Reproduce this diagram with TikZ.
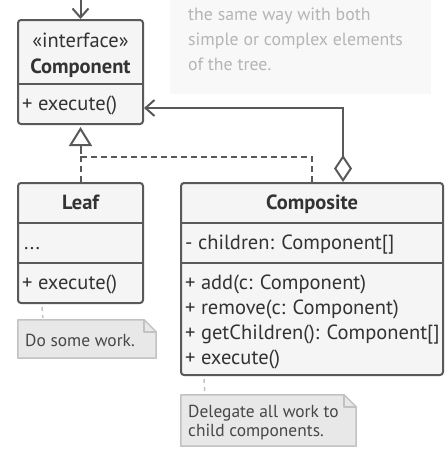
\documentclass[tikz,border=0pt]{standalone}
\usepackage{fontspec}
\setmainfont{PT Sans}
\usetikzlibrary{arrows.meta,calc}
\definecolor{linec}{HTML}{595959}
\definecolor{boxfill}{HTML}{F5F5F5}
\definecolor{txt}{HTML}{333333}
\definecolor{notefill}{HTML}{E8E8E8}
\definecolor{noteline}{HTML}{C2C2C2}
\definecolor{bgnote}{HTML}{F8F8F8}
\definecolor{bgtxt}{HTML}{B5B5B5}
\tikzset{
  classbox/.style={draw=linec, fill=boxfill, line width=2pt, rounded corners=3pt, inner sep=0pt},
  divider/.style={draw=linec, line width=2pt},
  lbl/.style={anchor=base west, inner sep=0pt, text=txt, font=\fontsize{20.5}{25}\selectfont},
  lblc/.style={anchor=base, inner sep=0pt, text=txt, font=\fontsize{20.5}{25}\selectfont},
  notelbl/.style={anchor=base west, inner sep=0pt, text=txt!90, font=\fontsize{17.4}{20}\selectfont},
  bglbl/.style={anchor=base west, inner sep=0pt, text=bgtxt, font=\fontsize{17.8}{25}\selectfont},
  conn/.style={draw=linec, line width=2pt},
  dashline/.style={draw=linec, line width=2pt, dash pattern=on 6pt off 4pt},
  notelink/.style={draw=noteline, line width=1.5pt, dash pattern=on 4pt off 4pt},
  notebox/.style={inner sep=0pt, draw=none},
}
\begin{document}
\begin{tikzpicture}[x=1pt,y=-1pt]
\useasboundingbox (0,0) rectangle (446,458);
% background note
\node[notebox, fill=bgnote, minimum width=261pt, minimum height=104pt] (bg) at (300.5,42) {};
\node[bglbl] (bg1) at (188,20) {the same way with both};
\node[bglbl] (bg2) at (188,45) {simple or complex elements};
\node[bglbl] (bg3) at (188,70) {of the tree.};

% Component
\node[classbox, minimum width=125pt, minimum height=104pt] (comp) at (80.5,72) {};
\draw[divider] (comp.west |- 0,84) -- (comp.east |- 0,84);
\node[lblc] (ci) at (80.5,47) {«interface»};
\node[lblc, font=\fontsize{20.5}{25}\selectfont\bfseries] (cn) at (80.5,73) {Component};
\node[lbl] (ce) at (22,110) {+ execute()};

% Leaf
\node[classbox, minimum width=125pt, minimum height=120pt] (leaf) at (80.5,243) {};
\draw[divider] (leaf.west |- 0,223) -- (leaf.east |- 0,223);
\draw[divider] (leaf.west |- 0,263) -- (leaf.east |- 0,263);
\node[lblc, font=\fontsize{20.5}{25}\selectfont\bfseries] (ln) at (80.5,209) {Leaf};
\node[lbl] (ld) at (24,249) {...};
\node[lbl] (le) at (22,289) {+ execute()};

% Composite
\node[classbox, minimum width=262pt, minimum height=192pt] (compo) at (312,279) {};
\draw[divider] (compo.west |- 0,223) -- (compo.east |- 0,223);
\draw[divider] (compo.west |- 0,263) -- (compo.east |- 0,263);
\node[lblc, font=\fontsize{20.5}{25}\selectfont\bfseries] (on) at (312,209) {Composite};
\node[lbl] (oc) at (185,249) {- children: Component[]};
\node[lbl] (o1) at (185,289) {+ add(c: Component)};
\node[lbl] (o2) at (185,314) {+ remove(c: Component)};
\node[lbl] (o3) at (185,339) {+ getChildren(): Component[]};
\node[lbl] (o4) at (185,364) {+ execute()};

% Notes
\node[notebox, minimum width=138pt, minimum height=38pt] (n1) at (87,339) {};
\node[notebox, minimum width=175pt, minimum height=51pt] (n2) at (268.5,420.5) {};
\foreach \n in {n1,n2}{
  \fill[notefill] (\n.north west) -- ($(\n.north east)+(-12,0)$) -- ($(\n.north east)+(0,12)$) -- (\n.south east) -- (\n.south west) -- cycle;
  \draw[noteline, line width=1.5pt, line join=round] (\n.north west) -- ($(\n.north east)+(-12,0)$) -- ($(\n.north east)+(0,12)$) -- (\n.south east) -- (\n.south west) -- cycle;
  \draw[noteline, line width=1.5pt, line join=round] ($(\n.north east)+(-12,0)$) -- ($(\n.north east)+(-12,12)$) -- ($(\n.north east)+(0,12)$);
}
\node[notelbl] (t1) at (25,346) {Do some work.};
\node[notelbl] (t2) at (188,417) {Delegate all work to};
\node[notelbl] (t3) at (188,436) {child components.};
\draw[notelink] ($(leaf.south west)+(25,3)$) -- ($(n1.north west)+(25,-2)$);
\draw[notelink] ($(compo.south west)+(24,3)$) -- ($(n2.north west)+(24,-2)$);

% connectors
\coordinate (topin) at (80.5,-2);
\draw[conn, -{Straight Barb[length=9pt, width=16pt, line width=2pt]}] (topin) -- (comp.north);
\draw[dashline] (leaf.north) -- ($(comp.south)+(0,20)$);
\draw[dashline, -{Triangle[open, fill=white, length=19pt, width=23pt, line width=2pt, sep=2pt]}] (compo.north) -- ++(0,-25) -| (comp.south);
\draw[conn, {Diamond[open, fill=white, length=27pt, width=18pt, line width=2pt]}-{Straight Barb[length=9pt, width=16pt, line width=2pt]}] ($(compo.north)+(31,0)$) |- ($(comp.south east)+(0,-17)$);
\end{tikzpicture}
\end{document}
